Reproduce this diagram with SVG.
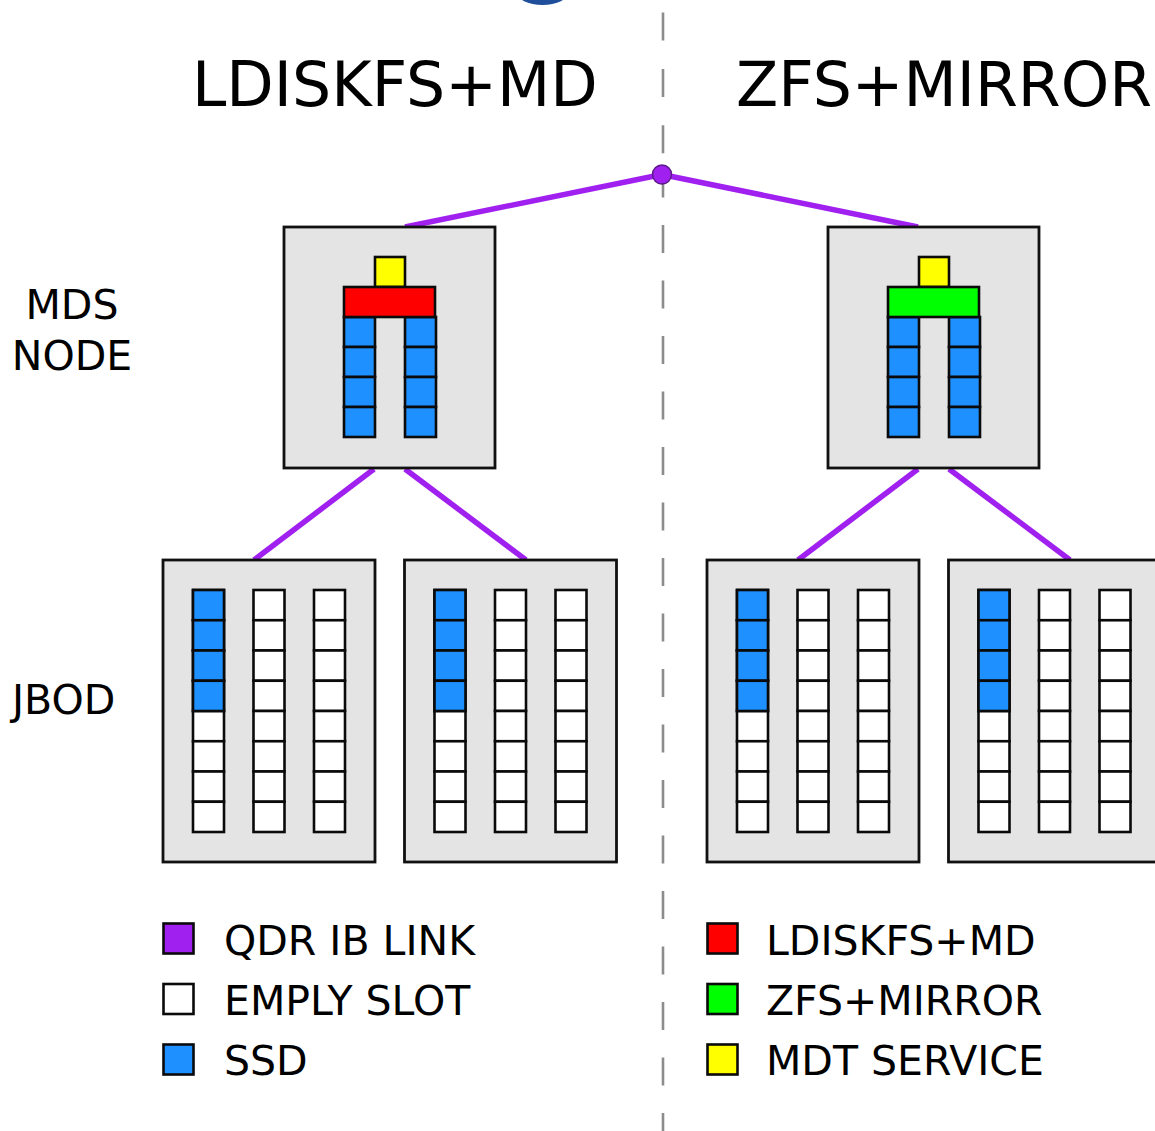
<svg xmlns="http://www.w3.org/2000/svg" xmlns:xlink="http://www.w3.org/1999/xlink" width="1155" height="1131" viewBox="0 0 1155 1131">
  <style>
    text { font-family: "DejaVu Sans", "Liberation Sans", sans-serif; fill: #000; }
    .title { font-size: 61.7px; }
    .label { font-size: 41px; }
    .legend { font-size: 41px; }
    .box { fill: #e4e4e4; stroke: #111; stroke-width: 2.8; }
    .cell { stroke: #0a0a0a; stroke-width: 2.6; }
    .ssd { fill: #1e90ff; }
    .empty { fill: #ffffff; }
    .mdt { fill: #ffff00; }
    .ldiskfs { fill: #ff0000; }
    .zfs { fill: #00ff00; }
    .link { stroke: #a020f0; stroke-width: 5.5; stroke-linecap: butt; fill: none; }
    .divider { stroke: #8c8c8c; stroke-width: 2.6; fill: none; }
  </style>
  <defs>
    <!-- MDS server chassis with its two mirrored SSD columns; the array bar is added per node -->
    <g id="mds-body">
      <rect class="box" x="0" y="0" width="211" height="241"/>
      <rect class="cell mdt" x="91" y="30" width="30" height="30"/>
      <g class="cell ssd">
        <rect x="60" y="90" width="31" height="30"/>
        <rect x="60" y="120" width="31" height="30"/>
        <rect x="60" y="150" width="31" height="30"/>
        <rect x="60" y="180" width="31" height="30"/>
        <rect x="121" y="90" width="31" height="30"/>
        <rect x="121" y="120" width="31" height="30"/>
        <rect x="121" y="150" width="31" height="30"/>
        <rect x="121" y="180" width="31" height="30"/>
      </g>
    </g>
    <!-- one column of eight drive slots -->
    <g id="slot-column">
      <rect class="cell empty" x="0" y="0" width="31" height="30.25"/>
      <rect class="cell empty" x="0" y="30.25" width="31" height="30.25"/>
      <rect class="cell empty" x="0" y="60.5" width="31" height="30.25"/>
      <rect class="cell empty" x="0" y="90.75" width="31" height="30.25"/>
      <rect class="cell empty" x="0" y="121" width="31" height="30.25"/>
      <rect class="cell empty" x="0" y="151.25" width="31" height="30.25"/>
      <rect class="cell empty" x="0" y="181.5" width="31" height="30.25"/>
      <rect class="cell empty" x="0" y="211.75" width="31" height="30.25"/>
    </g>
    <!-- JBOD enclosure: three slot columns, four SSDs in the first -->
    <g id="jbod">
      <rect class="box" x="0" y="0" width="212" height="302"/>
      <use xlink:href="#slot-column" x="30" y="30"/>
      <use xlink:href="#slot-column" x="90.5" y="30"/>
      <use xlink:href="#slot-column" x="151" y="30"/>
      <g class="cell ssd">
        <rect x="30" y="30" width="31" height="30.25"/>
        <rect x="30" y="60.25" width="31" height="30.25"/>
        <rect x="30" y="90.5" width="31" height="30.25"/>
        <rect x="30" y="120.75" width="31" height="30.25"/>
      </g>
    </g>
  </defs>

  <rect x="0" y="0" width="1155" height="1131" fill="#ffffff"/>

  <!-- partial blue shape at the top edge -->
  <ellipse cx="542.5" cy="-8" rx="26" ry="13" fill="#1f4f9a"/>

  <!-- dashed divider between the two configurations -->
  <g id="divider">
    <line class="divider" x1="663" y1="12.5" x2="663" y2="165" stroke-dasharray="28 28.4"/>
    <line class="divider" x1="663" y1="169.5" x2="663" y2="1131" stroke-dasharray="28 27.5"/>
  </g>

  <!-- headings and row labels -->
  <g id="headings">
    <text class="title" x="192" y="106">LDISKFS+MD</text>
    <text class="title" x="736" y="106">ZFS+MIRROR</text>
    <text class="label" x="72" y="319" text-anchor="middle">MDS</text>
    <text class="label" x="72" y="370" text-anchor="middle">NODE</text>
    <text class="label" x="12" y="714">JBOD</text>
  </g>

  <!-- QDR IB links -->
  <g id="connectors">
    <line class="link" x1="662" y1="174.5" x2="405" y2="227"/>
    <line class="link" x1="662" y1="174.5" x2="918" y2="227"/>
    <line class="link" x1="374" y1="469" x2="254" y2="560"/>
    <line class="link" x1="405" y1="469" x2="526" y2="560"/>
    <line class="link" x1="918" y1="469" x2="798" y2="560"/>
    <line class="link" x1="949" y1="469" x2="1070" y2="560"/>
    <circle cx="662" cy="174.5" r="9.5" fill="#a020f0" stroke="#5c1a8a" stroke-width="1.5"/>
  </g>

  <!-- MDS nodes -->
  <g id="mds-ldiskfs" transform="translate(284,227)">
    <use xlink:href="#mds-body"/>
    <rect class="cell ldiskfs" x="60" y="60" width="91" height="30"/>
  </g>
  <g id="mds-zfs" transform="translate(828,227)">
    <use xlink:href="#mds-body"/>
    <rect class="cell zfs" x="60" y="60" width="91" height="30"/>
  </g>

  <!-- JBOD enclosures -->
  <g id="jbod-ldiskfs-1" transform="translate(163,560)"><use xlink:href="#jbod"/></g>
  <g id="jbod-ldiskfs-2" transform="translate(404.5,560)"><use xlink:href="#jbod"/></g>
  <g id="jbod-zfs-1" transform="translate(707,560)"><use xlink:href="#jbod"/></g>
  <g id="jbod-zfs-2" transform="translate(948.5,560)"><use xlink:href="#jbod"/></g>

  <!-- legend -->
  <g id="legend">
    <rect class="cell" x="163.5" y="923.5" width="30" height="30" fill="#a020f0"/>
    <rect class="cell empty" x="163.5" y="984" width="30" height="30"/>
    <rect class="cell ssd" x="163.5" y="1044.5" width="30" height="30"/>
    <text class="legend" x="224" y="955">QDR IB LINK</text>
    <text class="legend" x="224" y="1015">EMPLY SLOT</text>
    <text class="legend" x="224" y="1075">SSD</text>
    <rect class="cell ldiskfs" x="707.5" y="923.5" width="30" height="30"/>
    <rect class="cell zfs" x="707.5" y="984" width="30" height="30"/>
    <rect class="cell mdt" x="707.5" y="1044.5" width="30" height="30"/>
    <text class="legend" x="766" y="955">LDISKFS+MD</text>
    <text class="legend" x="766" y="1015">ZFS+MIRROR</text>
    <text class="legend" x="766" y="1075">MDT SERVICE</text>
  </g>
</svg>
